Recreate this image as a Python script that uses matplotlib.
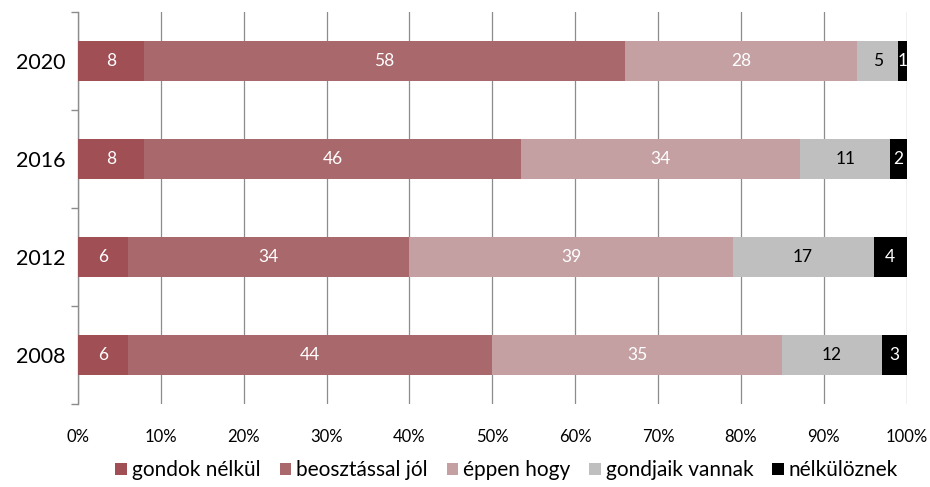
import numpy as np
import matplotlib.pyplot as plt
from matplotlib.ticker import FixedLocator, PercentFormatter

years = ["2020", "2016", "2012", "2008"]
categories = ["gondok nélkül", "beosztással jól", "éppen hogy", "gondjaik vannak", "nélkülöznek"]
values = {
    "gondok nélkül": [8, 8, 6, 6],
    "beosztással jól": [58, 46, 34, 44],
    "éppen hogy": [28, 34, 39, 35],
    "gondjaik vannak": [5, 11, 17, 12],
    "nélkülöznek": [1, 2, 4, 3],
}
colors = ["#a04f55", "#a9686b", "#c4a0a3", "#bfbfbf", "#000000"]
text_colors = ["white", "white", "white", "black", "white"]

plt.rcParams["font.family"] = ["Lato", "DejaVu Sans"]

fig = plt.figure(figsize=(9.3, 4.87), dpi=100)
ax = fig.add_axes([0.0839, 0.170, 0.891, 0.805])

data = np.array([values[c] for c in categories], dtype=float)
shares = data / data.sum(axis=0) * 100
y = np.arange(len(years))[::-1]

left = np.zeros(len(years))
for i, cat in enumerate(categories):
    bars = ax.barh(y, shares[i], left=left, height=0.41, color=colors[i],
                   edgecolor="none", label=cat, zorder=3)
    for b, v in zip(bars, data[i]):
        ax.text(b.get_x() + b.get_width() / 2, b.get_y() + b.get_height() / 2,
                f"{int(v)}", ha="center", va="center", color=text_colors[i],
                fontsize=12.5, zorder=4)
    left += shares[i]

ax.set_xlim(0, 100)
ax.set_ylim(-0.5, len(years) - 0.5)
ax.set_xticks(np.arange(0, 101, 10))
ax.xaxis.set_major_formatter(PercentFormatter(decimals=0))
ax.tick_params(axis="x", length=0, pad=18, labelsize=12)
ax.grid(axis="x", color="#8c8c8c", linewidth=0.9, zorder=0)

ax.yaxis.set_major_locator(FixedLocator(np.arange(-0.5, len(years), 1)))
ax.yaxis.set_minor_locator(FixedLocator(y))
ax.set_yticklabels([], minor=False)
ax.set_yticklabels(years, minor=True)
ax.tick_params(axis="y", which="major", length=5, color="#8c8c8c", width=1)
ax.tick_params(axis="y", which="minor", length=0, pad=9, labelsize=15.5)

for side in ["top", "right", "bottom"]:
    ax.spines[side].set_visible(False)
ax.spines["left"].set_color("#8c8c8c")
ax.spines["left"].set_linewidth(1)

fig.legend(loc="lower center", bbox_to_anchor=(0.545, -0.025), ncol=5, frameon=False,
           fontsize=15, handlelength=0.55, handleheight=0.55, handletextpad=0.25,
           columnspacing=0.9)

fig.savefig("out.png", dpi=100)
